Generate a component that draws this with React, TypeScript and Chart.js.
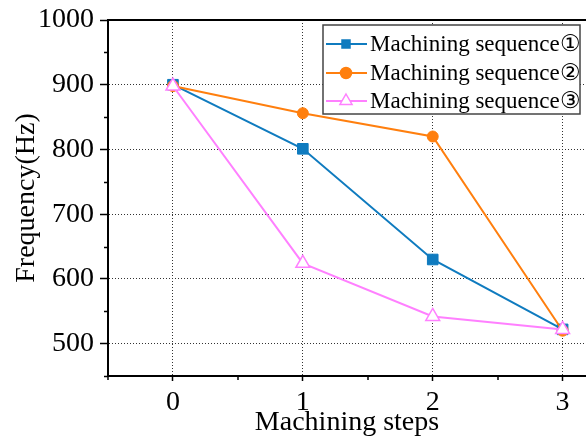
import React, { useEffect, useRef } from "react";
import { Chart, registerables } from "chart.js";

Chart.register(...registerables);

const steps = [0, 1, 2, 3];
const seq1 = [900, 801, 630, 522];
const seq2 = [898, 856, 820, 520];
const seq3 = [898, 624, 542, 522];
const seriesLabels = ["Machining sequence①", "Machining sequence②", "Machining sequence③"];
const yTickLabels = [500, 600, 700, 800, 900, 1000];
const yMinorTicks = [450, 550, 650, 750, 850, 950];
const xTickLabels = [0, 1, 2, 3];
const xMinorTicks = [-0.5, 0.5, 1.5, 2.5];

const FONT = "'Liberation Serif', 'Times New Roman', serif";

const framePlugin = {
  id: "frame",
  afterDraw(chart: any) {
    const { ctx, chartArea, scales } = chart;
    ctx.save();
    ctx.strokeStyle = "#000";
    ctx.lineWidth = 2;
    ctx.beginPath();
    ctx.moveTo(chartArea.left - 1, chartArea.top);
    ctx.lineTo(chartArea.right, chartArea.top);
    ctx.stroke();
    // minor ticks
    ctx.lineWidth = 1.5;
    ctx.beginPath();
    yMinorTicks.forEach((v) => {
      const y = Math.round(scales.y.getPixelForValue(v)) + 0.5;
      ctx.moveTo(chartArea.left - 4, y);
      ctx.lineTo(chartArea.left, y);
    });
    xMinorTicks.forEach((v) => {
      const x = Math.round(scales.x.getPixelForValue(v));
      ctx.moveTo(x, chartArea.bottom);
      ctx.lineTo(x, chartArea.bottom + 4);
    });
    ctx.stroke();
    ctx.restore();
  },
};

function marker(ctx: any, style: string, x: number, y: number, r: number) {
  ctx.beginPath();
  if (style === "rect") {
    ctx.rect(x - r, y - r, 2 * r, 2 * r);
  } else if (style === "circle") {
    ctx.arc(x, y, r, 0, Math.PI * 2);
  } else {
    ctx.moveTo(x, y - r);
    ctx.lineTo(x + r * 0.866, y + r * 0.5);
    ctx.lineTo(x - r * 0.866, y + r * 0.5);
    ctx.closePath();
  }
  ctx.fill();
  ctx.stroke();
}

const legendPlugin = {
  id: "customLegend",
  afterDraw(chart: any) {
    const { ctx } = chart;
    const x0 = 323, y0 = 25, w = 257, h = 89;
    ctx.save();
    ctx.fillStyle = "#fff";
    ctx.fillRect(x0, y0, w, h);
    ctx.strokeStyle = "#444";
    ctx.lineWidth = 1.5;
    ctx.strokeRect(x0, y0, w, h);
    const rows = [44, 73, 101];
    const sizes = [4, 5.5, 7];
    chart.data.datasets.forEach((ds: any, i: number) => {
      const y = rows[i];
      ctx.strokeStyle = ds.borderColor;
      ctx.lineWidth = 2;
      ctx.beginPath();
      ctx.moveTo(326, y);
      ctx.lineTo(367, y);
      ctx.stroke();
      ctx.fillStyle = ds.pointBackgroundColor;
      ctx.strokeStyle = ds.pointBorderColor;
      ctx.lineWidth = 1.5;
      marker(ctx, ds.pointStyle, 346, y, sizes[i]);
      ctx.fillStyle = "#000";
      ctx.font = "23px " + FONT;
      ctx.textBaseline = "middle";
      ctx.textAlign = "left";
      ctx.fillText(ds.label, 370, y + 1);
    });
    ctx.restore();
  },
};

export default function App() {
  const ref = useRef<HTMLCanvasElement | null>(null);
  useEffect(() => {
    document.body.style.margin = "0";
    const canvas = ref.current!;
    const chart = new Chart(canvas, {
      type: "line",
      data: {
        datasets: [
          {
            label: seriesLabels[0],
            data: steps.map((s, i) => ({ x: s, y: seq1[i] })),
            borderColor: "#0f7bbf",
            backgroundColor: "#0f7bbf",
            pointBackgroundColor: "#0f7bbf",
            pointBorderColor: "#0f7bbf",
            pointStyle: "rect",
            pointRadius: 7.5,
            pointBorderWidth: 1,
            borderWidth: 2,
            order: 2,
            clip: false,
          },
          {
            label: seriesLabels[1],
            data: steps.map((s, i) => ({ x: s, y: seq2[i] })),
            borderColor: "#ff7f0e",
            backgroundColor: "#ff7f0e",
            pointBackgroundColor: "#ff7f0e",
            pointBorderColor: "#ff7f0e",
            pointStyle: "circle",
            pointRadius: 5.5,
            pointBorderWidth: 1,
            borderWidth: 2,
            order: 1,
            clip: false,
          },
          {
            label: seriesLabels[2],
            data: steps.map((s, i) => ({ x: s, y: seq3[i] })),
            borderColor: "#ff80ff",
            backgroundColor: "#ffffff",
            pointBackgroundColor: "#ffffff",
            pointBorderColor: "#ff80ff",
            pointStyle: "triangle",
            pointRadius: 8,
            pointBorderWidth: 1.5,
            borderWidth: 2,
            order: 0,
            clip: false,
          },
        ] as any,
      },
      options: {
        animation: false,
        responsive: false,
        devicePixelRatio: 1,
        layout: { autoPadding: false, padding: { top: 20, right: 0, left: 0, bottom: 0 } },
        plugins: { legend: { display: false }, tooltip: { enabled: false } },
        scales: {
          x: {
            type: "linear",
            min: -0.5,
            max: 3.18,
            afterFit: (s: any) => {
              s.height = 63;
              s.paddingRight = 0;
              s.paddingLeft = 0;
            },
            afterBuildTicks: (s: any) => {
              s.ticks = xTickLabels.map((v) => ({ value: v }));
            },
            ticks: {
              autoSkip: false,
              maxRotation: 0,
              padding: 5,
              color: "#000",
              font: { family: FONT, size: 28 },
              callback: (v: any) => String(v),
            },
            grid: {
              color: "#333",
              tickColor: "#000",
              tickLength: 5,
              tickWidth: 1.5,
              lineWidth: 1,
            },
            border: { display: true, color: "#000", width: 2, dash: [1, 2] },
            title: {
              display: true,
              text: "Machining steps",
              color: "#000",
              font: { family: FONT, size: 28 },
              padding: { top: 0, bottom: 0 },
            },
          },
          y: {
            type: "linear",
            min: 450,
            max: 1000,
            afterFit: (s: any) => {
              s.width = 108;
              s.paddingTop = 0;
              s.paddingBottom = 0;
            },
            afterBuildTicks: (s: any) => {
              s.ticks = yTickLabels.map((v) => ({ value: v }));
            },
            ticks: {
              autoSkip: false,
              padding: 6,
              color: "#000",
              font: { family: FONT, size: 28 },
              callback: (v: any) => String(v),
            },
            grid: {
              color: (c: any) =>
                c.tick && c.tick.value !== 1000 ? "#333" : "rgba(0,0,0,0)",
              tickColor: "#000",
              tickLength: 8,
              tickWidth: 1.5,
              lineWidth: 1,
            },
            border: { display: true, color: "#000", width: 2, dash: [1, 2] },
            title: {
              display: true,
              text: "Frequency(Hz)",
              color: "#000",
              font: { family: FONT, size: 28 },
              padding: { top: 10, bottom: 0 },
            },
          },
        },
      } as any,
      plugins: [framePlugin, legendPlugin],
    });
    return () => chart.destroy();
  }, []);
  return (
    <div style={{ position: "absolute", left: 0, top: 0, width: 586, height: 439 }}>
      <canvas ref={ref} width={586} height={439} style={{ width: 586, height: 439 }} />
    </div>
  );
}
